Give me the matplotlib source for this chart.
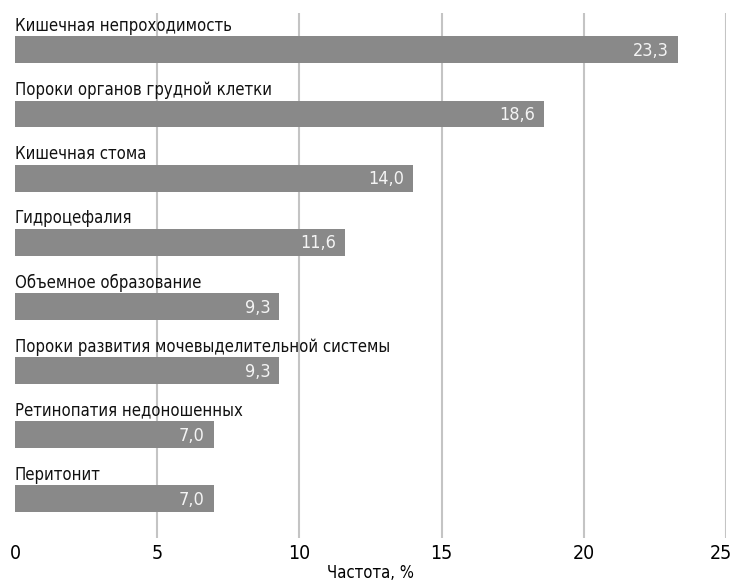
#! /bin/env python3

import matplotlib
matplotlib.use("Agg")
import matplotlib.pyplot as plt
import matplotlib.transforms as mtransforms
import numpy as np

categories = [
    "Кишечная непроходимость",
    "Пороки органов грудной клетки",
    "Кишечная стома",
    "Гидроцефалия",
    "Объемное образование",
    "Пороки развития мочевыделительной системы",
    "Ретинопатия недоношенных",
    "Перитонит",
]
values = [23.3, 18.6, 14.0, 11.6, 9.3, 9.3, 7.0, 7.0]
x_ticks = [0, 5, 10, 15, 20, 25]
x_label = "Частота, %"


def main():
    plt.rcParams["font.family"] = ["DejaVu Sans"]
    plt.rcParams["font.stretch"] = "condensed"

    fig = plt.figure(figsize=(7.34, 5.82), dpi=100)
    ax = fig.add_axes([0.0204, 0.0756, 0.9687, 0.9021])

    y = np.arange(len(categories))
    ax.barh(y, values, height=0.42, color="#898989", zorder=2)

    # category names sit just above each bar
    for yi, name in zip(y, categories):
        ax.text(0, yi - 0.23, name, ha="left", va="bottom",
                fontsize=12, color="#111111")

    # values inside the bar, at its right end
    for yi, v in zip(y, values):
        ax.text(v - 0.32, yi + 0.02, f"{v:.1f}".replace(".", ","),
                ha="right", va="center", fontsize=13, color="#f4f4f4", zorder=3)

    ax.set_xlim(0, 25)
    ax.set_ylim(7.617, -0.577)
    ax.set_xticks(x_ticks)
    ax.set_xticklabels([str(t) for t in x_ticks], fontsize=14)
    ax.set_yticks([])
    ax.tick_params(axis="x", length=0, pad=4)
    # keep the last label inside the figure, nudged toward its gridline
    last = ax.get_xticklabels()[-1]
    last.set_horizontalalignment("right")
    last.set_transform(last.get_transform()
                       + mtransforms.ScaledTranslation(6 / 100, 0, fig.dpi_scale_trans))

    for t in x_ticks[1:]:
        ax.axvline(t, color="#c4c4c4", lw=1.5, zorder=1)

    for s in ax.spines.values():
        s.set_visible(False)

    ax.set_xlabel(x_label, fontsize=12, labelpad=1)

    fig.savefig("out.png", dpi=100)


if __name__ == "__main__":
    main()
